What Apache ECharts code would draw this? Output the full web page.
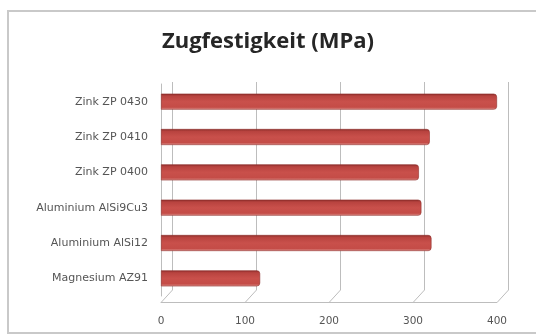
<!DOCTYPE html>
<html>
<head>
<meta charset="utf-8">
<script src="https://cdn.jsdelivr.net/npm/echarts@6/dist/echarts.min.js"></script>
<style>
  html, body { margin: 0; padding: 0; background: #ffffff; }
  #chart { width: 536px; height: 336px; }
</style>
</head>
<body>
<div id="chart"></div>
<script>
// Tensile strength of die-cast alloys (MPa), listed bottom to top
const categories = [
  'Magnesium AZ91',
  'Aluminium AlSi12',
  'Aluminium AlSi9Cu3',
  'Zink ZP 0400',
  'Zink ZP 0410',
  'Zink ZP 0430'
];
const strengths = [118, 322, 310, 307, 320, 400];
const xTicks = [0, 100, 200, 300, 400];
const titleText = 'Zugfestigkeit (MPa)';

const chart = echarts.init(document.getElementById('chart'), null, { renderer: 'canvas' });

// Back-wall gridlines with a short diagonal running back from each front tick
function renderWall(params, api) {
  const cs = params.coordSys;
  const p = api.coord([api.value(0), 0]);
  const px = Math.round(p[0]) + 0.5;
  const bottom = cs.y + cs.height;
  return {
    type: 'polyline',
    shape: { points: [[px, bottom + 6], [px + 11, bottom - 6], [px + 11, cs.y - 2]] },
    style: { stroke: '#bdbdbd', lineWidth: 1, fill: null },
    z2: 0
  };
}

const option = {
  backgroundColor: '#ffffff',
  animation: false,
  title: {
    text: titleText,
    left: 'center',
    top: 26,
    textStyle: {
      fontFamily: 'Open Sans',
      fontWeight: 'bold',
      fontSize: 22,
      color: '#262626'
    }
  },
  graphic: [{
    type: 'rect',
    shape: { x: 8, y: 11, width: 540, height: 322 },
    style: { fill: null, stroke: '#c9c9c9', lineWidth: 2 },
    silent: true
  }],
  grid: { left: 161, right: 39, top: 84, bottom: 40 },
  xAxis: {
    type: 'value',
    min: 0,
    max: 400,
    interval: 100,
    offset: 6,
    axisLine: { show: true, lineStyle: { color: '#bdbdbd' } },
    axisTick: { show: false },
    splitLine: { show: false },
    axisLabel: {
      margin: 14,
      fontFamily: 'DejaVu Sans',
      fontSize: 10.5,
      color: '#555555'
    }
  },
  yAxis: {
    type: 'category',
    data: categories,
    axisLine: { show: true, lineStyle: { color: '#bdbdbd' } },
    axisTick: { show: false },
    axisLabel: {
      margin: 13,
      fontFamily: 'DejaVu Sans',
      fontSize: 11,
      color: '#555555'
    }
  },
  series: [
    {
      type: 'custom',
      renderItem: renderWall,
      data: xTicks.map(v => [v, 0]),
      encode: { x: 0, y: 1 },
      clip: false,
      silent: true,
      z: 1
    },
    {
      type: 'bar',
      data: strengths,
      barWidth: 16,
      z: 3,
      itemStyle: {
        borderRadius: [0, 3, 3, 0],
        borderColor: '#8e2f2b',
        borderWidth: 0.6,
        color: new echarts.graphic.LinearGradient(0, 0, 0, 1, [
          { offset: 0, color: '#8a2c29' },
          { offset: 0.15, color: '#b8433f' },
          { offset: 0.5, color: '#c9504b' },
          { offset: 0.85, color: '#c44c47' },
          { offset: 1, color: '#e29893' }
        ])
      }
    }
  ]
};

chart.setOption(option);
</script>
</body>
</html>
